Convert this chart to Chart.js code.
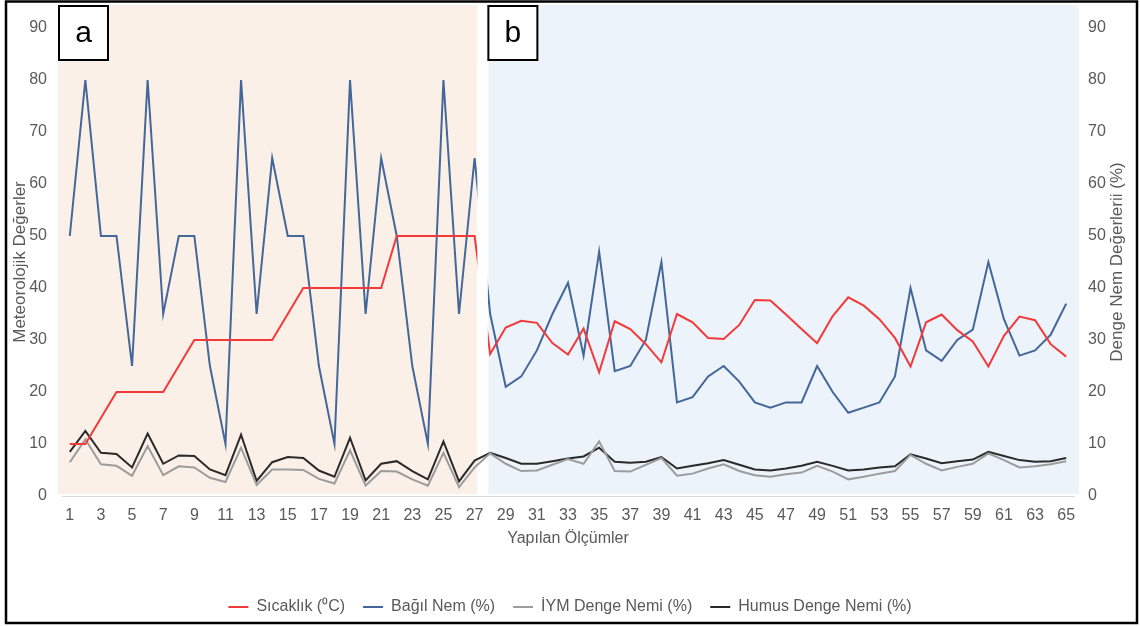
<!DOCTYPE html>
<html>
<head>
<meta charset="utf-8">
<script src="https://cdn.jsdelivr.net/npm/chart.js@4.4.0/dist/chart.umd.min.js"></script>
<style>
  body { margin: 0; background: #fff; }
  canvas { display: block; }
</style>
</head>
<body>
<canvas id="olcum" width="1140" height="626"></canvas>
<script>
const olcumler = ['1','2','3','4','5','6','7','8','9','10','11','12','13','14','15','16','17','18','19','20',
  '21','22','23','24','25','26','27','28','29','30','31','32','33','34','35','36','37','38','39','40',
  '41','42','43','44','45','46','47','48','49','50','51','52','53','54','55','56','57','58','59','60',
  '61','62','63','64','65'];

// a: 1-27, b: 28-65
const sicaklik = [10,10,15,20,20,20,20,25,30,30,30,30,30,30,35,40,40,40,40,40,40,50,50,50,50,50,50,
  27.3,32.4,33.7,33.3,29.4,27.2,32.2,23.8,33.6,32.1,29.2,25.7,35.0,33.4,30.4,30.2,32.9,37.7,37.6,34.9,32.1,
  29.4,34.6,38.2,36.6,34.0,30.4,24.9,33.4,34.9,31.9,29.7,24.9,30.8,34.5,33.8,29.2,26.8];

const bagilNem = [50,80,50,50,25,80,35,50,50,25,10,80,35,65,50,50,25,10,80,35,65,50,25,10,80,35,65,
  35,21,23,28,35,41,27,47,24,25,30,45,18,19,23,25,22,18,17,18,18,25,20,16,17,18,23,40,28,26,30,32,45,
  34,27,28,31,37];

const iymNem = [6.5,10.9,6.1,5.8,3.9,9.6,4.0,5.7,5.5,3.5,2.7,9.3,2.1,5.1,5.1,5.0,3.3,2.4,8.8,2.0,4.8,4.7,3.2,2.0,8.3,1.7,5.5,
  8.2,6.2,4.8,4.9,6.0,7.1,6.2,10.5,4.8,4.7,6.0,7.3,3.9,4.3,5.3,6.1,4.8,4.0,3.7,4.2,4.5,5.8,4.7,3.2,3.7,
  4.3,4.8,7.9,6.2,4.9,5.6,6.2,8.2,6.9,5.5,5.7,6.1,6.7];

const humusNem = [8.5,12.5,8.3,8.1,5.5,12.0,6.2,7.8,7.7,5.1,4.0,11.8,2.9,6.5,7.5,7.3,4.9,3.7,11.2,3.0,6.2,6.7,4.8,3.2,10.5,2.8,6.8,
  8.3,7.3,6.2,6.2,6.7,7.2,7.6,9.3,6.6,6.4,6.6,7.5,5.3,5.8,6.3,6.9,6.0,5.1,4.9,5.3,5.8,6.6,5.8,4.9,5.1,
  5.5,5.7,8.0,7.2,6.3,6.7,7.0,8.5,7.7,6.9,6.6,6.7,7.3];

const yTicks = [0,10,20,30,40,50,60,70,80,90];

const FONT = '"Liberation Sans", Arial, sans-serif';
const GRAY = '#595959';

// peach / blue panels, a-b boxes, frame
const panels = {
  id: 'panels',
  beforeDraw(chart) {
    const { ctx, scales: { x, y } } = chart;
    const split = (x.getPixelForValue(26) + x.getPixelForValue(27)) / 2;
    ctx.save();
    ctx.fillStyle = '#FBF0E8';
    ctx.fillRect(x.left - 4, 5, split - 5 - (x.left - 4), y.bottom - 7);
    ctx.fillStyle = '#ECF3FA';
    ctx.fillRect(split + 6, 5, x.right + 5 - (split + 6), y.bottom - 7);

    const box = (bx, txt) => {
      ctx.fillStyle = '#fff';
      ctx.fillRect(bx, 6, 49, 54);
      ctx.strokeStyle = '#000';
      ctx.lineWidth = 2;
      ctx.strokeRect(bx, 6, 49, 54);
      ctx.fillStyle = '#000';
      ctx.font = '30px ' + FONT;
      ctx.textAlign = 'center';
      ctx.textBaseline = 'middle';
      ctx.fillText(txt, bx + 24.5, 34);
    };
    box(x.left - 3, 'a');
    box(split + 6, 'b');
    ctx.restore();
  },
  afterDatasetsDraw(chart) {
    // white gap between the two panels hides the 27 -> 28 jump
    const { ctx, scales: { x } } = chart;
    const split = (x.getPixelForValue(26) + x.getPixelForValue(27)) / 2;
    ctx.save();
    ctx.fillStyle = '#fff';
    ctx.fillRect(split - 5, 62, 10.5, 378);
    ctx.restore();
  },
  afterDraw(chart) {
    const { ctx, scales: { y1 } } = chart;
    ctx.save();
    ctx.translate(1117, (y1.top + y1.bottom) / 2);
    ctx.rotate(-Math.PI / 2);
    ctx.fillStyle = GRAY;
    ctx.font = '17px ' + FONT;
    ctx.textAlign = 'center';
    ctx.textBaseline = 'middle';
    ctx.fillText('Denge Nem Değerlerii (%)', 0, 0);
    ctx.restore();

    ctx.save();
    ctx.strokeStyle = '#000';
    ctx.lineWidth = 2.5;
    ctx.strokeRect(6, 1.5, 1131, 621.5);
    ctx.restore();
  }
};

const line = (label, data, color) => ({
  label, data,
  borderColor: color,
  backgroundColor: color,
  borderWidth: 2,
  pointRadius: 0,
  tension: 0,
  fill: false
});

new Chart(document.getElementById('olcum'), {
  type: 'line',
  data: {
    labels: olcumler,
    datasets: [
      line('Sıcaklık (⁰C)', sicaklik, '#F23A3A'),
      line('Bağıl Nem (%)', bagilNem, '#44679A'),
      line('İYM Denge Nemi (%)', iymNem, '#9C9C9C'),
      line('Humus Denge Nemi (%)', humusNem, '#2A2A2A')
    ]
  },
  plugins: [panels],
  options: {
    responsive: false,
    animation: false,
    layout: { padding: { top: 28, bottom: 1, left: 0, right: 0 } },
    plugins: {
      tooltip: { enabled: false },
      legend: {
        position: 'bottom',
        labels: {
          usePointStyle: true,
          pointStyle: 'line',
          pointStyleWidth: 20,
          padding: 18,
          color: GRAY,
          font: { family: FONT, size: 16 }
        }
      }
    },
    scales: {
      x: {
        offset: true,
        grid: { display: false, drawTicks: false },
        border: { display: true, color: '#D9D9D9', width: 1 },
        ticks: {
          autoSkip: false,
          maxRotation: 0,
          padding: 10,
          color: GRAY,
          font: { family: FONT, size: 16 },
          callback: (v, i) => (i % 2 === 0 ? olcumler[i] : '')
        },
        title: {
          display: true,
          text: 'Yapılan Ölçümler',
          color: GRAY,
          font: { family: FONT, size: 16 },
          padding: { top: 0, bottom: 33 }
        },
        afterFit: s => { s.height = 85; }
      },
      y: {
        position: 'left',
        min: yTicks[0],
        max: yTicks[yTicks.length - 1],
        grid: { display: false, drawTicks: false },
        border: { display: false },
        ticks: {
          stepSize: 10,
          padding: 15,
          color: GRAY,
          font: { family: FONT, size: 16 }
        },
        title: {
          display: true,
          text: 'Meteorolojik Değerler',
          color: GRAY,
          font: { family: FONT, size: 17 },
          padding: { top: 10, bottom: 0 }
        },
        afterFit: s => { s.width = 62; }
      },
      y1: {
        position: 'right',
        min: yTicks[0],
        max: yTicks[yTicks.length - 1],
        grid: { display: false, drawTicks: false },
        border: { display: false },
        ticks: {
          stepSize: 10,
          padding: 14,
          color: GRAY,
          font: { family: FONT, size: 16 }
        },
        afterFit: s => { s.width = 66; }
      }
    }
  }
});
</script>
</body>
</html>
